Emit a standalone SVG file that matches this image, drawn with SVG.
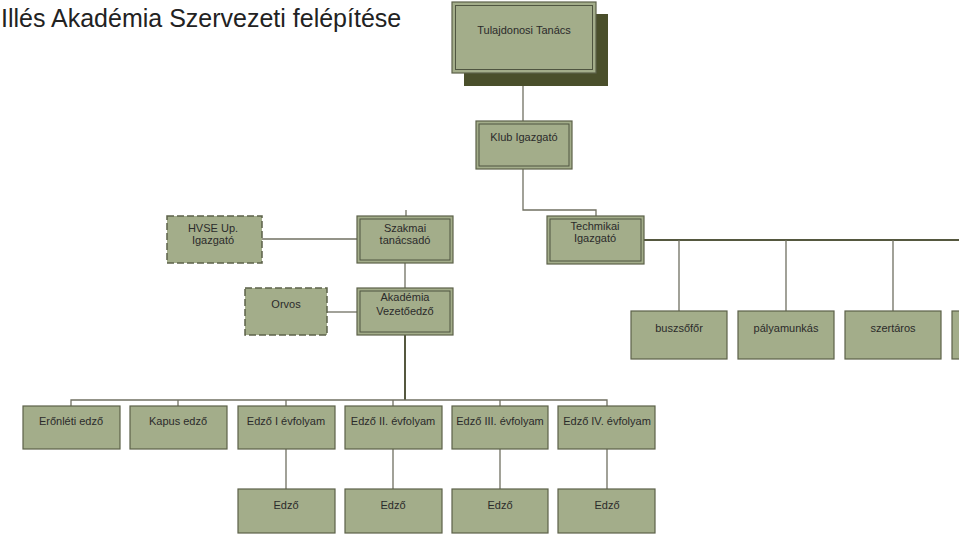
<svg xmlns="http://www.w3.org/2000/svg" width="959" height="538" viewBox="0 0 959 538">
<style>
.bg{fill:#ffffff}
.box{fill:#a3ad8a;stroke:#5c6149;stroke-width:1.2}
.dbl{fill:none;stroke:#4f5540;stroke-width:1}
.dash{fill:#a3ad8a;stroke:#5c6149;stroke-width:1.5;stroke-dasharray:7 3}
.shadow{fill:#4a4f2b}
.t{font-family:"Liberation Sans",Arial,sans-serif;font-size:11px;fill:#2b2b2b;text-anchor:middle}
.title{font-family:"Liberation Sans",Arial,sans-serif;font-size:25px;fill:#222}
.c{fill:none;stroke:#707062;stroke-width:1.3}
.ct{fill:none;stroke:#55583f;stroke-width:2}
</style>
<rect class="bg" x="0" y="0" width="959" height="538"/>
<text class="title" x="1" y="27">Illés Akadémia Szervezeti felépítése</text>

<g id="connectors">
<path class="c" d="M523 86V121"/>
<path class="c" d="M523 169V210H596V216"/>
<path class="c" d="M406 210V216"/>
<path class="c" d="M262 239H357"/>
<path class="c" d="M405 263V288"/>
<path class="c" d="M327 312H357"/>
<path class="ct" d="M405 335V400"/>
<path class="c" d="M71 406V400H607V406"/>
<path class="c" d="M178 400V406M286 400V406M393 400V406M500 400V406"/>
<path class="c" d="M286 449V489M393 449V489M500 449V489M607 449V489"/>
<path class="ct" d="M644 240H959"/>
<path class="c" d="M679 240V311M786 240V311M893 240V311"/>
</g>

<g id="tulajdonosi">
<rect class="shadow" x="464" y="14" width="144" height="72"/>
<rect class="box" x="452" y="2" width="144" height="71"/>
<rect class="dbl" x="455.5" y="5.5" width="137" height="64"/>
<text class="t" x="524" y="34">Tulajdonosi Tanács</text>
</g>

<g id="klub">
<rect class="box" x="476" y="121" width="96" height="48"/>
<rect class="dbl" x="479" y="124" width="90" height="42"/>
<text class="t" x="524" y="141">Klub Igazgató</text>
</g>

<g id="hvse">
<rect class="dash" x="167" y="216" width="95" height="47"/>
<text class="t" x="213" y="232">HVSE Up.</text>
<text class="t" x="213" y="244">Igazgató</text>
</g>

<g id="szakmai">
<rect class="box" x="357" y="216" width="96" height="47"/>
<rect class="dbl" x="360" y="219" width="90" height="41"/>
<text class="t" x="405" y="232">Szakmai</text>
<text class="t" x="405" y="244">tanácsadó</text>
</g>

<g id="techmikai">
<rect class="box" x="547" y="216" width="97" height="48"/>
<rect class="dbl" x="550" y="219" width="91" height="42"/>
<text class="t" x="595" y="230">Techmikai</text>
<text class="t" x="595" y="242">Igazgató</text>
</g>

<g id="orvos">
<rect class="dash" x="245" y="288" width="82" height="47"/>
<text class="t" x="286" y="308">Orvos</text>
</g>

<g id="akademia">
<rect class="box" x="357" y="288" width="96" height="47"/>
<rect class="dbl" x="360" y="291" width="90" height="41"/>
<text class="t" x="405" y="301">Akadémia</text>
<text class="t" x="405" y="315">Vezetőedző</text>
</g>

<g id="buszsofor">
<rect class="box" x="631" y="311" width="96" height="48"/>
<text class="t" x="679" y="332">buszsőfőr</text>
</g>
<g id="palyamunkas">
<rect class="box" x="738" y="311" width="96" height="48"/>
<text class="t" x="786" y="332">pályamunkás</text>
</g>
<g id="szertaros">
<rect class="box" x="845" y="311" width="96" height="48"/>
<text class="t" x="893" y="332">szertáros</text>
</g>
<g id="tech4">
<rect class="box" x="952" y="311" width="96" height="48"/>
</g>

<g id="eronleti">
<rect class="box" x="23" y="406" width="97" height="43"/>
<text class="t" x="71" y="425">Erőnléti edző</text>
</g>
<g id="kapus">
<rect class="box" x="130" y="406" width="97" height="43"/>
<text class="t" x="178" y="425">Kapus edző</text>
</g>
<g id="edzo1">
<rect class="box" x="238" y="406" width="97" height="43"/>
<text class="t" x="286" y="425">Edző I évfolyam</text>
</g>
<g id="edzo2">
<rect class="box" x="345" y="406" width="97" height="43"/>
<text class="t" x="393" y="425">Edző II. évfolyam</text>
</g>
<g id="edzo3">
<rect class="box" x="452" y="406" width="96" height="43"/>
<text class="t" x="500" y="425">Edző III. évfolyam</text>
</g>
<g id="edzo4">
<rect class="box" x="558" y="406" width="97" height="43"/>
<text class="t" x="607" y="425">Edző IV. évfolyam</text>
</g>

<g id="edzo1a">
<rect class="box" x="238" y="489" width="97" height="44"/>
<text class="t" x="286" y="509">Edző</text>
</g>
<g id="edzo2a">
<rect class="box" x="345" y="489" width="97" height="44"/>
<text class="t" x="393" y="509">Edző</text>
</g>
<g id="edzo3a">
<rect class="box" x="452" y="489" width="96" height="44"/>
<text class="t" x="500" y="509">Edző</text>
</g>
<g id="edzo4a">
<rect class="box" x="558" y="489" width="97" height="44"/>
<text class="t" x="607" y="509">Edző</text>
</g>
</svg>
